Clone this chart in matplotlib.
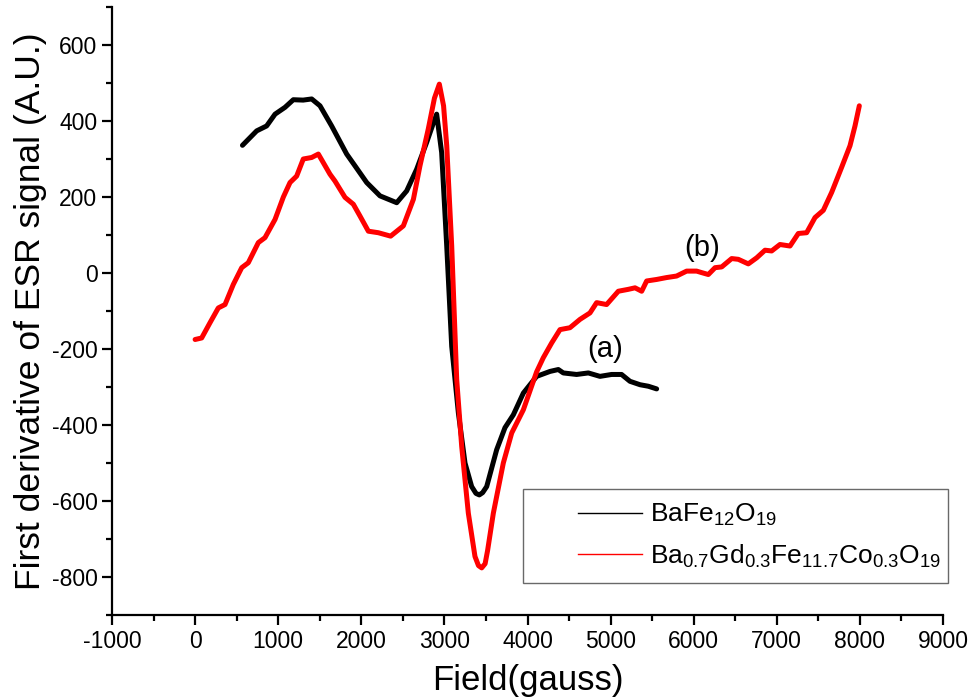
import matplotlib
matplotlib.use("Agg")
import matplotlib.pyplot as plt
from matplotlib.ticker import MultipleLocator
from matplotlib.lines import Line2D
from matplotlib.legend_handler import HandlerBase

plt.rcParams['font.family'] = ['Liberation Sans', 'DejaVu Sans']
plt.rcParams['mathtext.fontset'] = 'custom'
plt.rcParams['mathtext.rm'] = 'Liberation Sans'
plt.rcParams['mathtext.default'] = 'regular'
plt.rcParams['axes.unicode_minus'] = False

# (a) BaFe12O19
field_a = [570, 741, 861, 962, 1082, 1182, 1300, 1403, 1503, 1643, 1824, 1924,
           2065, 2225, 2426, 2546, 2666, 2787, 2860, 2907, 2967, 3028, 3088,
           3168, 3248, 3328, 3380, 3420, 3460, 3509, 3629, 3729, 3830, 3950,
           4110, 4271, 4371, 4431, 4591, 4732, 4872, 5012, 5132, 5233, 5354,
           5454, 5554]
signal_a = [336, 374, 387, 418, 436, 456, 455, 458, 440, 387, 313, 282,
            238, 203, 185, 216, 273, 344, 390, 418, 317, 71, -193,
            -368, -500, -562, -580, -584, -578, -562, -465, -407, -373, -316,
            -272, -259, -254, -263, -267, -263, -272, -267, -267, -285, -294,
            -298, -305]

# (b) Ba0.7Gd0.3Fe11.7Co0.3O19
field_b = [0, 79, 179, 279, 360, 460, 561, 640, 761, 841, 962, 1062, 1142,
           1222, 1302, 1403, 1483, 1623, 1683, 1804, 1904, 1984, 2085, 2205,
           2353, 2506, 2627, 2706, 2806, 2880, 2939, 2990, 3028, 3088, 3148,
           3208, 3288, 3368, 3410, 3449, 3490, 3520, 3589, 3709, 3810, 3950,
           4030, 4110, 4190, 4291, 4391, 4511, 4632, 4752, 4832, 4952, 5093,
           5213, 5294, 5374, 5434, 5554, 5674, 5794, 5915, 6035, 6096, 6176,
           6257, 6337, 6457, 6537, 6657, 6758, 6858, 6938, 7038, 7159, 7259,
           7359, 7460, 7560, 7660, 7780, 7881, 7941, 7993]
signal_b = [-175, -171, -131, -92, -83, -30, 14, 27, 80, 93, 141, 200, 238,
            255, 300, 304, 313, 260, 242, 199, 181, 150, 110, 106,
            97, 124, 194, 282, 379, 460, 497, 440, 335, 71, -280,
            -456, -632, -746, -770, -776, -765, -730, -632, -500, -421, -360,
            -310, -260, -223, -184, -149, -144, -122, -105, -78, -83, -48,
            -43, -39, -48, -21, -17, -12, -8, 5, 5, 1, -4,
            14, 16, 38, 36, 24, 40, 60, 58, 75, 71, 104,
            106, 146, 165, 212, 278, 335, 387, 440]

label_a = r'BaFe$_{12}$O$_{19}$'
label_b = r'Ba$_{0.7}$Gd$_{0.3}$Fe$_{11.7}$Co$_{0.3}$O$_{19}$'


class ShiftedLine(HandlerBase):
    # legend line drawn only in the right part of the handle box
    def create_artists(self, legend, orig_handle, xdescent, ydescent,
                       width, height, fontsize, trans):
        y = height / 2 - ydescent
        x0 = -xdescent + width * 0.40
        line = Line2D([x0, -xdescent + width], [y, y],
                      color=orig_handle.get_color(),
                      lw=orig_handle.get_linewidth())
        line.set_transform(trans)
        return [line]


fig = plt.figure(figsize=(9.71, 6.98), dpi=100)
ax = fig.add_axes([112 / 971, 83 / 698, 831 / 971, 608 / 698])

ax.plot(field_a, signal_a, color='black', lw=3.6, solid_joinstyle='round',
        solid_capstyle='round')
ax.plot(field_b, signal_b, color='red', lw=3.6, solid_joinstyle='round',
        solid_capstyle='round')

h1 = Line2D([], [], color='black', lw=1)
h2 = Line2D([], [], color='red', lw=1)

ax.text(4933, -201, '(a)', fontsize=21, ha='center', va='center')
ax.text(6100, 67, '(b)', fontsize=21, ha='center', va='center')

ax.set_xlim(-1000, 9000)
ax.set_ylim(-900, 700)
ax.xaxis.set_major_locator(MultipleLocator(1000))
ax.xaxis.set_minor_locator(MultipleLocator(500))
ax.set_yticks(range(-800, 601, 200))
ax.yaxis.set_minor_locator(MultipleLocator(100))

for s in ['top', 'right']:
    ax.spines[s].set_visible(False)
for s in ['left', 'bottom']:
    ax.spines[s].set_linewidth(1.6)
ax.tick_params(which='major', direction='out', length=7, width=1.6,
               labelsize=16.5)
ax.tick_params(which='minor', direction='out', length=4, width=1.6)

ax.set_xlabel('Field(gauss)', fontsize=25, labelpad=8)
ax.set_ylabel('First derivative of ESR signal (A.U.)', fontsize=25.5,
              labelpad=3)

leg = ax.legend([h1, h2], [label_a, label_b], loc='lower left',
                bbox_to_anchor=(0.4946, 0.0526, 0.5114, 0.158),
                mode='expand', fontsize=19, frameon=True, fancybox=False,
                edgecolor='#444444', handlelength=4.0, handletextpad=0.3,
                borderpad=0.5, labelspacing=0.55, borderaxespad=0,
                handler_map={Line2D: ShiftedLine()})
leg.get_frame().set_linewidth(1.0)

fig.savefig('out.png', dpi=100)
